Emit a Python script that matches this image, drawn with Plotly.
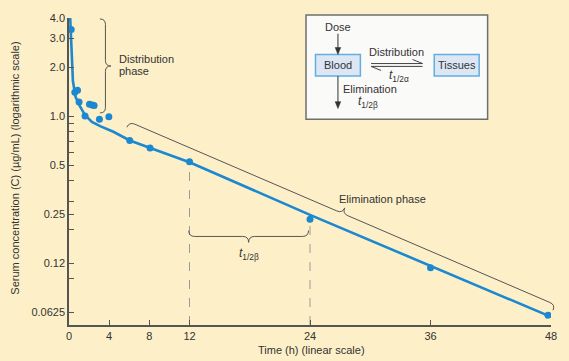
import numpy as np
import plotly.graph_objects as go

# ---------------- data ----------------
time_h = [0.22, 0.58, 0.85, 1.0, 1.6, 2.04, 2.3, 2.5, 3.03, 3.97, 6.05, 8.07, 12, 24, 36, 47.7]
conc = [3.40, 1.40, 1.44, 1.22, 1.0, 1.18, 1.17, 1.16, 0.955, 0.99, 0.707, 0.636, 0.523, 0.232, 0.117, 0.0597]

fit_time = [0.12, 0.25, 0.39, 0.65, 1.11, 1.61, 2.28, 3.1, 4.42, 6.05, 8.07, 12, 24, 36, 48]
fit_conc = [4.0, 2.38, 1.64, 1.31, 1.14, 1.01, 0.92, 0.866, 0.80, 0.707, 0.635, 0.52, 0.247, 0.12, 0.0583]

y_tick_vals = [4, 3, 2, 1, 0.5, 0.25, 0.125, 0.0625]
y_tick_text = ["4.0", "3.0", "2.0", "1.0", "0.5", "0.25", "0.12", "0.0625"]
y_minor_vals = [0.9, 0.8, 0.7, 0.6, 0.4, 0.3, 0.2, 0.1]
x_tick_vals = [0, 4, 8, 12, 24, 36, 48]

half_life_times = [12, 24]
half_life_tops = [0.50, 0.22]
y_min, y_max = 0.052, 4.0

# ---------------- layout helpers ----------------
W, H = 569, 361
L, R, T, B = 69, 552, 13, 325
FONT = "Liberation Sans, Arial, sans-serif"
BG = "#FDF0C9"
BLUE = "#1C88CF"
INK = "#333333"
AXIS = "#555555"


def P(xp, yp):
    return (xp - L) / (R - L), (B - yp) / (B - T)


def path_px(cmds):
    out = []
    for c in cmds:
        if isinstance(c, str):
            out.append(c)
        else:
            x, y = P(*c)
            out.append(f"{x:.5f},{y:.5f}")
    return " ".join(out)


def brace(origin, u, n, L_, d):
    def pt(s, t):
        return (origin[0] + u[0] * s + n[0] * t, origin[1] + u[1] * s + n[1] * t)
    cmds = ["M", pt(0, 0), "Q", pt(0, d), pt(d, d), "L", pt(L_ / 2 - d, d),
            "Q", pt(L_ / 2, d), pt(L_ / 2, 2 * d), "Q", pt(L_ / 2, d), pt(L_ / 2 + d, d),
            "L", pt(L_ - d, d), "Q", pt(L_, d), pt(L_, 0)]
    return path_px(cmds)


fig = go.Figure()

# dashed half-life guides
for t, top in zip(half_life_times, half_life_tops):
    fig.add_trace(go.Scatter(x=[t, t], y=[y_min, top], mode="lines",
                             line=dict(color="#9A9A9A", width=1, dash="dash"),
                             hoverinfo="skip", showlegend=False))

fig.add_trace(go.Scatter(x=fit_time, y=fit_conc, mode="lines",
                         line=dict(color=BLUE, width=2.6), showlegend=False))
fig.add_trace(go.Scatter(x=time_h, y=conc, mode="markers",
                         marker=dict(color=BLUE, size=7), showlegend=False))

shapes = []
# braces
shapes.append(dict(type="path", xref="paper", yref="paper",
                   path=brace((100, 14), (0, 1), (1, 0), 95.5, 5.5),
                   line=dict(color="#555555", width=1)))
shapes.append(dict(type="path", xref="paper", yref="paper",
                   path=brace((189, 229), (1, 0), (0, 1), 120, 6),
                   line=dict(color="#555555", width=1)))
ux, uy = 427, 186
ln = (ux ** 2 + uy ** 2) ** 0.5
u = (ux / ln, uy / ln)
n = (u[1], -u[0])
shapes.append(dict(type="path", xref="paper", yref="paper",
                   path=brace((127, 124), u, n, ln, 6),
                   line=dict(color="#555555", width=1)))

# inset box
x0, y0 = P(306.5, 10)
x1, y1 = P(488.5, 116)
shapes.append(dict(type="rect", xref="paper", yref="paper", x0=x0, y0=y0, x1=x1, y1=y1,
                   fillcolor="#FAFAF8", line=dict(color="#6E6E6E", width=1.5)))
for (a, b, c, d) in [(316, 50, 361, 72), (435, 50, 480, 72)]:
    x0, y0 = P(a, b)
    x1, y1 = P(c, d)
    shapes.append(dict(type="rect", xref="paper", yref="paper", x0=x0, y0=y0, x1=x1, y1=y1,
                       fillcolor="#DCE6F5", line=dict(color="#62AEDF", width=1.5)))


def seg_px(a, b, c, d, color="#444444", width=1):
    x0, y0 = P(a, b)
    x1, y1 = P(c, d)
    shapes.append(dict(type="line", xref="paper", yref="paper", x0=x0, y0=y0, x1=x1, y1=y1,
                       line=dict(color=color, width=width)))


# equilibrium half arrows
seg_px(371.7, 59.3, 423.3, 59.3)
seg_px(413.3, 55.2, 423.3, 59.3)
seg_px(371.7, 62.2, 423.3, 62.2)
seg_px(371.7, 62.2, 381.7, 66.3)

# down arrows (Dose -> Blood, Blood -> Elimination)
for (xa, ya, yb) in [(338.5, 29, 50), (338.5, 72, 105)]:
    seg_px(xa, ya, xa, yb - 4, color="#333333", width=1)
    shapes.append(dict(type="path", xref="paper", yref="paper",
                       path=path_px(["M", (xa - 2.8, yb - 7), "L", (xa + 2.8, yb - 7),
                                     "L", (xa, yb), "Z"]),
                       fillcolor="#333333", line=dict(color="#333333", width=0.5)))

annotations = []


def text(xp, yp, s, size=11, xanchor="center", angle=0, color=INK):
    x, y = P(xp, yp)
    annotations.append(dict(x=x, y=y, xref="paper", yref="paper", text=s, showarrow=False,
                            xanchor=xanchor, yanchor="middle", textangle=angle,
                            font=dict(family=FONT, size=size, color=color)))


text(117, 55, "Distribution", xanchor="left")
text(117, 67, "phase", xanchor="left")
text(338, 197, "Elimination phase", xanchor="left")
text(249, 253, "<i>t</i><sub>1/2β</sub>", size=12)
text(312, 350, "Time (h) (linear scale)")
text(14, 166, "Serum concentration (C) (µg/mL) (logarithmic scale)", angle=-90)

# inset text
text(338.5, 22, "Dose")
text(338.5, 61, "Blood")
text(457.5, 61, "Tissues")
text(397, 48, "Distribution")
text(400, 72, "<i>t</i><sub>1/2α</sub>", size=12)
text(342, 85, "Elimination", xanchor="left")
text(369, 98, "<i>t</i><sub>1/2β</sub>", size=12)

fig.update_layout(
    width=W, height=H,
    margin=dict(l=L, r=W - R, t=T, b=H - B),
    paper_bgcolor=BG, plot_bgcolor=BG,
    shapes=shapes, annotations=annotations,
    showlegend=False,
    font=dict(family=FONT, size=11, color=INK),
    xaxis=dict(range=[0, 48], tickvals=x_tick_vals, ticktext=[str(v) for v in x_tick_vals],
               ticks="inside", ticklen=5, tickcolor=AXIS, showline=True,
               linecolor=AXIS, linewidth=1.5, showgrid=False, zeroline=False,
               tickfont=dict(family=FONT, size=11, color=INK)),
    yaxis=dict(type="log", range=[np.log10(y_min), np.log10(y_max)],
               tickvals=y_tick_vals, ticktext=y_tick_text,
               ticks="inside", ticklen=5, tickcolor=AXIS, showline=True,
               linecolor=AXIS, linewidth=1.5, showgrid=False, zeroline=False,
               minor=dict(tickvals=y_minor_vals, ticks="inside", ticklen=5,
                          tickcolor=AXIS, showgrid=False),
               tickfont=dict(family=FONT, size=11, color=INK)),
)

fig.write_html("out.html", config={"displayModeBar": False},
               post_script="document.body.style.margin='0';"
                           "document.body.style.background='" + BG + "';")
